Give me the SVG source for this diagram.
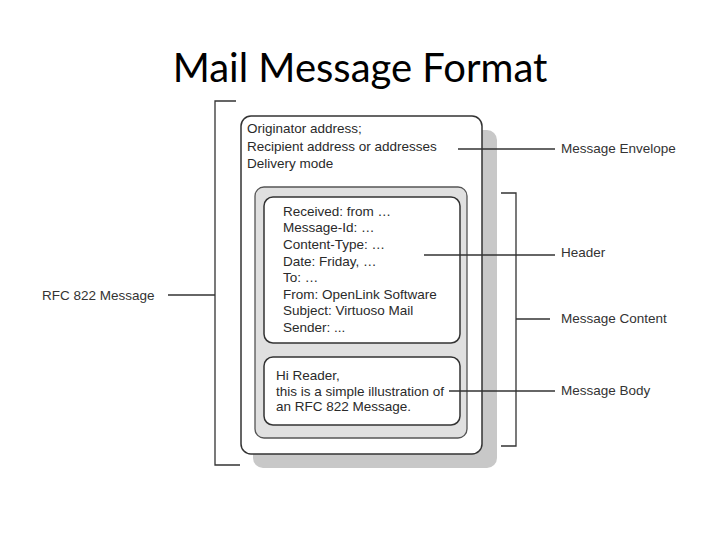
<svg xmlns="http://www.w3.org/2000/svg" width="720" height="540" viewBox="0 0 720 540">
<style>
.t{font-family:"Liberation Sans",Arial,sans-serif;font-size:13.5px;fill:#2a2a2a}
.lbl{font-family:"Liberation Sans",Arial,sans-serif;font-size:13.5px;fill:#333}
.ln{stroke:#333;stroke-width:1.3;fill:none}
.box{fill:#fff;stroke:#333;stroke-width:1.5}
</style>
<rect width="720" height="540" fill="#fff"/>
<text x="360" y="82" text-anchor="middle" font-family="Lato,'Open Sans',sans-serif" font-size="40" fill="#000">Mail Message Format</text>

<g id="envelope">
<rect x="253" y="130" width="244" height="338" rx="10" fill="#c8c8c8"/>
<rect class="box" x="241" y="116" width="241" height="338" rx="10"/>
<text class="t" x="247" y="133">Originator address;</text>
<text class="t" x="247" y="151">Recipient address or addresses</text>
<text class="t" x="247" y="168">Delivery mode</text>
</g>

<g id="content">
<rect x="255" y="187" width="212" height="251" rx="9" fill="#e0e0e0" stroke="#555" stroke-width="1.3"/>
</g>

<g id="header">
<rect class="box" x="264" y="197" width="196" height="146" rx="9"/>
<text class="t" x="283" y="216">Received: from …</text>
<text class="t" x="283" y="232">Message-Id: …</text>
<text class="t" x="283" y="249">Content-Type: …</text>
<text class="t" x="283" y="266">Date: Friday, …</text>
<text class="t" x="283" y="282">To: …</text>
<text class="t" x="283" y="299">From: OpenLink Software</text>
<text class="t" x="283" y="315">Subject: Virtuoso Mail</text>
<text class="t" x="283" y="332">Sender: ...</text>
</g>

<g id="body">
<rect class="box" x="264" y="357" width="196" height="68" rx="9"/>
<text class="t" x="276" y="380">Hi Reader,</text>
<text class="t" x="276" y="396">this is a simple illustration of</text>
<text class="t" x="276" y="411">an RFC 822 Message.</text>
</g>

<g id="connectors">
<polyline class="ln" points="236,101 215,101 215,465 240,465"/>
<line class="ln" x1="168" y1="295" x2="215" y2="295"/>
<line class="ln" x1="458" y1="149" x2="555" y2="149"/>
<line class="ln" x1="424" y1="255" x2="555" y2="255"/>
<polyline class="ln" points="501,193 516,193 516,446 501,446"/>
<line class="ln" x1="516" y1="319" x2="550" y2="319" stroke="#666" stroke-width="2"/>
<line class="ln" x1="449" y1="391" x2="555" y2="391"/>
</g>

<g id="labels">
<text class="lbl" x="42" y="300">RFC 822 Message</text>
<text class="lbl" x="561" y="153">Message Envelope</text>
<text class="lbl" x="561" y="257">Header</text>
<text class="lbl" x="561" y="323">Message Content</text>
<text class="lbl" x="561" y="395">Message Body</text>
</g>
</svg>
